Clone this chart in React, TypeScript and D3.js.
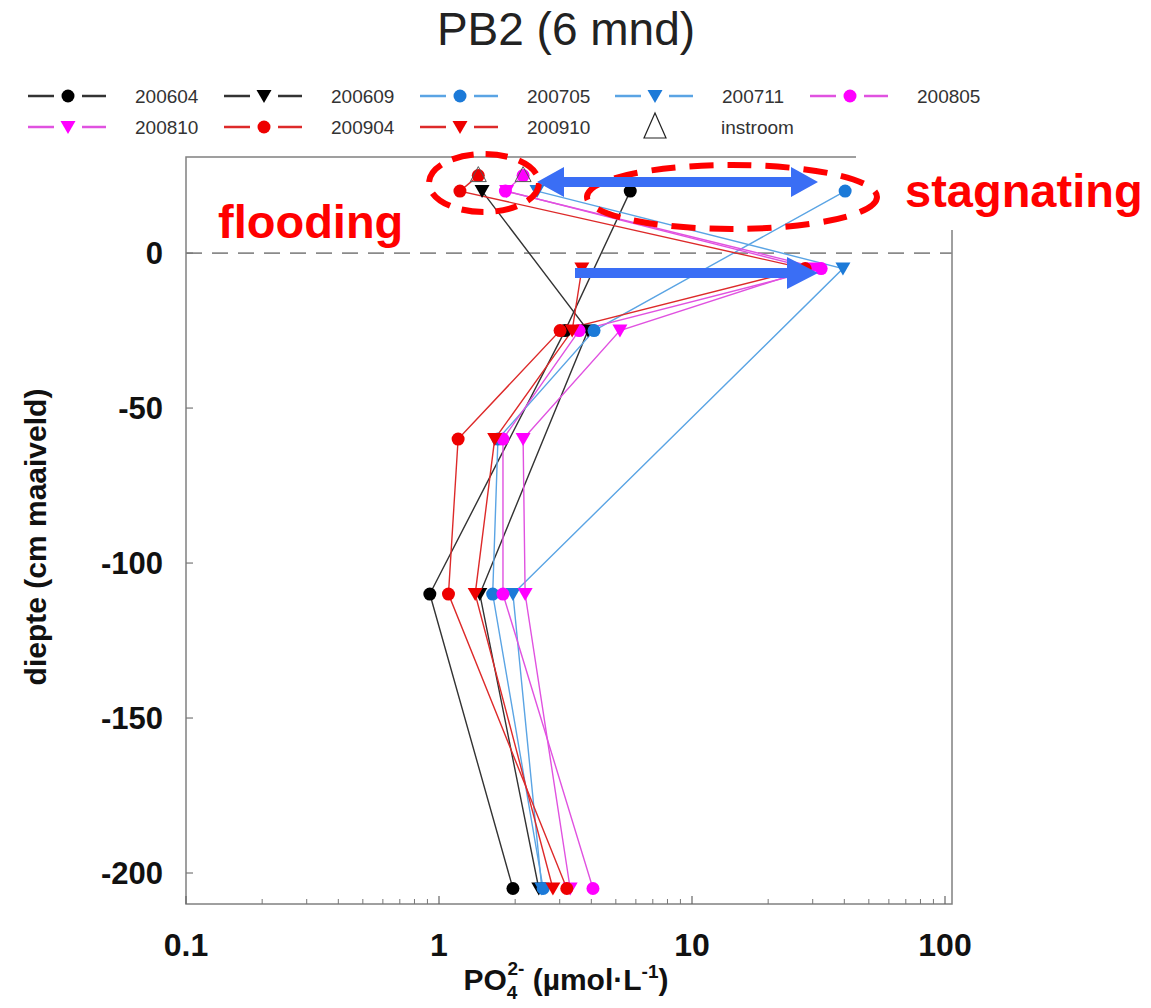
import * as d3 from 'd3';

// depth rows (cm relative to maaiveld)
const depths = [25, 20, -5, -25, -60, -110, -205];

// PO4 values per sampling date, aligned with depths (null = not measured)
const s200604 = [null, 5.7, null, 3.15, null, 0.92, 1.96];
const s200609 = [null, 1.48, null, 3.88, null, 1.45, 2.48];
const s200705 = [null, 40.3, null, 4.1, 1.71, 1.63, 2.58];
const s200711 = [null, 2.44, 39.5, null, null, 1.96, 2.55];
const s200805 = [2.15, 1.83, 32.4, 3.58, 1.79, 1.79, 4.06];
const s200810 = [null, 1.85, 29.8, 5.19, 2.15, 2.19, 3.3];
const s200904 = [1.43, 1.21, 28, 3.01, 1.19, 1.09, 3.2];
const s200910 = [null, null, 3.67, 3.36, 1.66, 1.39, 2.82];

const instroomVals = [1.43, 2.15];
const instroomDepth = 25;

const xTicks = [0.1, 1, 10, 100];
const yTicks = [0, -50, -100, -150, -200];

const series = [
  { name: '200604', vals: s200604, shape: 'circle', fill: '#000000', line: '#333333' },
  { name: '200609', vals: s200609, shape: 'tri', fill: '#000000', line: '#333333' },
  { name: '200705', vals: s200705, shape: 'circle', fill: '#1c7ad8', line: '#5aa4e4' },
  { name: '200711', vals: s200711, shape: 'tri', fill: '#1c7ad8', line: '#5aa4e4' },
  { name: '200805', vals: s200805, shape: 'circle', fill: '#ff00ff', line: '#e052e0' },
  { name: '200810', vals: s200810, shape: 'tri', fill: '#ff00ff', line: '#e052e0' },
  { name: '200904', vals: s200904, shape: 'circle', fill: '#ee0000', line: '#dd2a2a' },
  { name: '200910', vals: s200910, shape: 'tri', fill: '#ee0000', line: '#dd2a2a' },
];

const W = 1151;
const H = 1008;
const left = 186, right = 952, top = 157, bottom = 904;

const x = d3.scaleLog().domain([0.1, 100]).range([186, 945]);
const y = d3.scaleLinear().domain([-210, 31]).range([bottom, top]);

const font = 'Arial, "Liberation Sans", sans-serif';
const blue = '#3a6ef5';

const marker = (shape, cx, cy, fill, key, s = 1) => {
  if (shape === 'circle') {
    return <circle key={key} cx={cx} cy={cy} r={6.5 * s} fill={fill} />;
  }
  const p = `M${cx - 7.5 * s},${cy - 6 * s}L${cx + 7.5 * s},${cy - 6 * s}L${cx},${cy + 7 * s}Z`;
  return <path key={key} d={p} fill={fill} />;
};

function App() {
  const line = d3
    .line()
    .defined((d) => d[0] != null)
    .x((d) => x(d[0]))
    .y((d) => y(d[1]));

  const minor = [];
  [0.1, 1, 10].forEach((dec) => {
    for (let k = 2; k <= 9; k++) minor.push(dec * k);
  });

  const legendCols = [68, 264, 460, 655, 850];
  const legendRows = [96, 127];

  // pts without gaps: lines connect the measured depths only
  const pts = (vals) => vals.map((v, i) => [v, depths[i]]).filter((d) => d[0] != null);

  const dbl = (() => {
    const yc = 182, l = 537, r = 818, hl = 27, hh = 15, sh = 5;
    return `M${l},${yc}L${l + hl},${yc - hh}L${l + hl},${yc - sh}L${r - hl},${yc - sh}L${r - hl},${yc - hh}L${r},${yc}L${r - hl},${yc + hh}L${r - hl},${yc + sh}L${l + hl},${yc + sh}L${l + hl},${yc + hh}Z`;
  })();
  const sgl = (() => {
    const yc = 273, l = 575, r = 818, hl = 31, hh = 16, sh = 5;
    return `M${l},${yc - sh}L${r - hl},${yc - sh}L${r - hl},${yc - hh}L${r},${yc}L${r - hl},${yc + hh}L${r - hl},${yc + sh}L${l},${yc + sh}Z`;
  })();

  return (
    <svg
      width={W}
      height={H}
      style={{ position: 'absolute', left: 0, top: 0, display: 'block', background: '#fff' }}
      fontFamily={font}
    >
      <text x={566} y={45} textAnchor="middle" fontSize={46} fill="#222">PB2 (6 mnd)</text>

      {/* legend */}
      {series.map((s, i) => {
        const cx = legendCols[i % 5];
        const cy = legendRows[Math.floor(i / 5)];
        return (
          <g key={s.name}>
            <line x1={cx - 40} x2={cx - 14} y1={cy} y2={cy} stroke={s.line} strokeWidth={2.5} />
            <line x1={cx + 14} x2={cx + 38} y1={cy} y2={cy} stroke={s.line} strokeWidth={2.5} />
            {marker(s.shape, cx, cy, s.fill, 'm')}
            <text x={cx + 67} y={cy + 7} fontSize={19} fill="#333">{s.name}</text>
          </g>
        );
      })}
      <path d={`M${legendCols[3]},${legendRows[1] - 14}L${legendCols[3] + 11},${legendRows[1] + 11}L${legendCols[3] - 11},${legendRows[1] + 11}Z`} fill="none" stroke="#222" strokeWidth={1.2} />
      <text x={legendCols[3] + 66} y={legendRows[1] + 7} fontSize={19} fill="#333">instroom</text>

      {/* frame */}
      <rect x={left} y={top} width={right - left} height={bottom - top} fill="none" stroke="#808080" strokeWidth={1.5} />
      <line x1={left} x2={right} y1={y(0)} y2={y(0)} stroke="#8a8a8a" strokeWidth={1.8} strokeDasharray="16 10" />

      {xTicks.map((t) => (
        <g key={t}>
          <line x1={x(t)} x2={x(t)} y1={bottom} y2={bottom - 8} stroke="#666" strokeWidth={1.2} />
          <text x={x(t)} y={956} textAnchor="middle" fontSize={32} fontWeight="bold" fill="#111">{t}</text>
        </g>
      ))}
      {minor.map((t) => (
        <line key={t} x1={x(t)} x2={x(t)} y1={bottom} y2={bottom - 5} stroke="#777" strokeWidth={1} />
      ))}
      {yTicks.map((t) => (
        <g key={t}>
          <line x1={left} x2={left + 7} y1={y(t)} y2={y(t)} stroke="#777" strokeWidth={1.2} />
          <text x={163} y={y(t)} dy="0.36em" textAnchor="end" fontSize={31} fontWeight="bold" fill="#111">{t}</text>
        </g>
      ))}

      <text transform="translate(46,537) rotate(-90)" textAnchor="middle" fontSize={30} fontWeight="bold" fill="#111">
        diepte (cm maaiveld)
      </text>
      <text x={566} y={990} textAnchor="middle" fontSize={30} fontWeight="bold" fill="#111">
        PO<tspan fontSize={19} dy={9}>4</tspan>
        <tspan fontSize={19} dx={-10} dy={-24}>2-</tspan>
        <tspan dy={15}> (µmol·L</tspan>
        <tspan fontSize={19} dy={-12}>-1</tspan>
        <tspan dy={12}>)</tspan>
      </text>

      {/* series lines */}
      {series.map((s) => (
        <path key={s.name} d={line(pts(s.vals))} fill="none" stroke={s.line} strokeWidth={1.4} />
      ))}
      {/* markers */}
      {series.map((s) => (
        <g key={s.name}>
          {pts(s.vals).map((d, i) => marker(s.shape, x(d[0]), y(d[1]), s.fill, i))}
        </g>
      ))}
      {instroomVals.map((v, i) => (
        <path
          key={i}
          d={`M${x(v)},${y(instroomDepth) - 9}L${x(v) + 8},${y(instroomDepth) + 6}L${x(v) - 8},${y(instroomDepth) + 6}Z`}
          fill="none"
          stroke="#555"
          strokeWidth={1}
        />
      ))}

      {/* annotations */}
      <rect x={856} y={145} width={295} height={85} fill="#fff" />
      <ellipse cx={484} cy={183} rx={55} ry={29} fill="none" stroke="#ff0000" strokeWidth={6} strokeDasharray="22 12" />
      <ellipse cx={732} cy={197} rx={145} ry={32} fill="none" stroke="#ff0000" strokeWidth={6} strokeDasharray="24 14" />
      <path d={dbl} fill={blue} />
      <path d={sgl} fill={blue} />
      <text x={218} y={238} fontSize={47} fontWeight="bold" fill="#ff0000">flooding</text>
      <text x={905} y={207} fontSize={47} fontWeight="bold" fill="#ff0000">stagnating</text>
    </svg>
  );
}

export default App;
